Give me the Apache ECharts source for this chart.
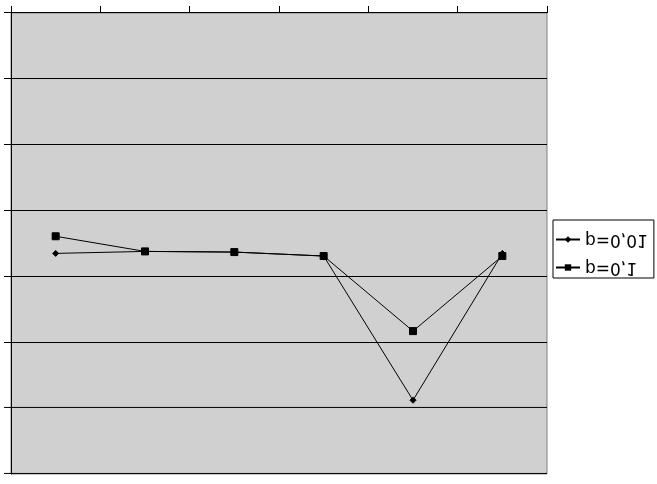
<!DOCTYPE html>
<html>
<head>
<meta charset="utf-8">
<script src="https://cdn.jsdelivr.net/npm/echarts@6/dist/echarts.min.js"></script>
<style>
  html, body { margin: 0; padding: 0; background: #ffffff; }
  /* the reference picture is the chart mirrored top-to-bottom */
  #chart { width: 657px; height: 484px; transform: scaleY(-1); }
</style>
</head>
<body>
<div id="chart"></div>
<script>
// ---- data ----
var categories = ['1', '2', '3', '4', '5', '6'];
var seriesNames = ['p=0,01', 'p=0,1'];
var valuesP001 = [3.65, 3.62, 3.63, 3.69, 5.88, 3.65];
var valuesP01  = [3.39, 3.62, 3.63, 3.69, 4.83, 3.69];
var yMin = 0, yMax = 7, yStep = 1;

var chart = echarts.init(document.getElementById('chart'), null, { renderer: 'canvas' });
chart.setOption({
  animation: false,
  backgroundColor: '#ffffff',
  grid: {
    left: 11, top: 10, width: 536, height: 461,
    show: true, backgroundColor: '#d0d0d0',
    borderColor: '#808080', borderWidth: 1
  },
  legend: {
    orient: 'vertical',
    left: 553, top: 206,
    data: [seriesNames[1], seriesNames[0]],
    itemWidth: 24, itemHeight: 8, itemGap: 11,
    padding: [2, 6, 11, 2],
    backgroundColor: '#ffffff',
    borderColor: '#000000', borderWidth: 1, borderRadius: 0,
    textStyle: { fontFamily: 'DejaVu Sans', fontSize: 17, color: '#000000', lineHeight: 17 }
  },
  xAxis: {
    type: 'category',
    data: categories,
    boundaryGap: true,
    axisLine: { lineStyle: { color: '#000000', width: 1 } },
    axisTick: { show: true, length: 7, lineStyle: { color: '#000000' } },
    axisLabel: { show: false },
    splitLine: { show: false }
  },
  yAxis: {
    type: 'value',
    min: yMin, max: yMax, interval: yStep,
    axisLine: { show: true, lineStyle: { color: '#000000', width: 1 } },
    axisTick: { show: true, length: 7, lineStyle: { color: '#000000' } },
    axisLabel: { show: false },
    splitLine: { show: true, lineStyle: { color: '#000000', width: 1 } }
  },
  series: [
    {
      name: seriesNames[0], type: 'line', data: valuesP001,
      symbol: 'diamond', symbolSize: 6, showAllSymbol: true,
      lineStyle: { color: '#000000', width: 1 },
      itemStyle: { color: '#000000', borderColor: '#000000' }
    },
    {
      name: seriesNames[1], type: 'line', data: valuesP01,
      symbol: 'rect', symbolSize: 7, showAllSymbol: true,
      lineStyle: { color: '#000000', width: 1 },
      itemStyle: { color: '#000000', borderColor: '#000000' }
    }
  ]
});
</script>
</body>
</html>
